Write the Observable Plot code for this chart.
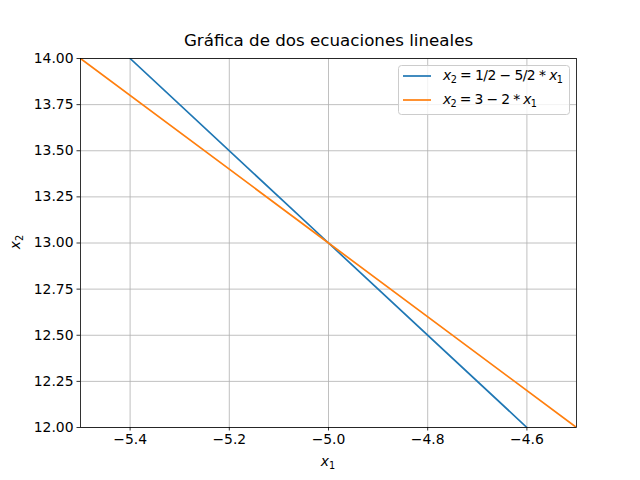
<!DOCTYPE html>
<html>
<head>
<meta charset="utf-8">
<script src="https://cdn.jsdelivr.net/npm/d3@7"></script>
<script src="https://cdn.jsdelivr.net/npm/@observablehq/plot@0.6"></script>
<style>
  html, body { margin: 0; padding: 0; background: white; }
</style>
</head>
<body>
<div id="chart"></div>
<script>
const titleText = "Gráfica de dos ecuaciones lineales";
const xTicks = [-5.4, -5.2, -5.0, -4.8, -4.6];
const yTicks = [12.0, 12.25, 12.5, 12.75, 13.0, 13.25, 13.5, 13.75, 14.0];
const blueX = [-5.4, -5.0, -4.6];
const blueY = [14.0, 13.0, 12.0];
const orangeX = [-5.5, -5.0, -4.5];
const orangeY = [14.0, 13.0, 12.0];
const seriesNames = ["blue", "orange"];

const blue = blueX.map((x, i) => ({x, y: blueY[i]}));
const orange = orangeX.map((x, i) => ({x, y: orangeY[i]}));

const fmt = d3.format(".1f");
const chart = Plot.plot({
  width: 640, height: 480,
  marginLeft: 80, marginRight: 64, marginTop: 58, marginBottom: 53,
  style: {fontFamily: "DejaVu Sans", fontSize: "13.9px", background: "white", color: "black"},
  x: {domain: [-5.5, -4.5], label: null},
  y: {domain: [12, 14], label: null},
  marks: [
    Plot.gridX(xTicks, {stroke: "#b0b0b0", strokeOpacity: 1, strokeWidth: 0.8}),
    Plot.gridY(yTicks, {stroke: "#b0b0b0", strokeOpacity: 1, strokeWidth: 0.8}),
    Plot.line(blue, {x: "x", y: "y", stroke: "#1f77b4", strokeWidth: 1.7, clip: true}),
    Plot.line(orange, {x: "x", y: "y", stroke: "#ff7f0e", strokeWidth: 1.7, clip: true}),
    Plot.frame({stroke: "black", strokeWidth: 0.8}),
    Plot.axisX(xTicks, {tickSize: 3.5, tickPadding: 3.5, tickFormat: d => fmt(d), label: null, fontSize: 13.9, strokeWidth: 0.8}),
    Plot.axisY(yTicks, {tickSize: 3.5, tickPadding: 3.5, tickFormat: d3.format(".2f"), label: null, fontSize: 13.9, strokeWidth: 0.8}),
    Plot.text([titleText], {frameAnchor: "top", dy: -24, text: d => d, fontSize: 16.7, fill: "black"})
  ]
});
document.getElementById("chart").appendChild(chart);

const svg = d3.select(chart);
function addParts(t, parts) {
  parts.forEach(part => {
    if (Array.isArray(part)) {
      t.append("tspan").attr("font-style", "italic").text(part[0]);
      t.append("tspan").attr("font-size", "9.7px").attr("baseline-shift", "-3px").text(part[1]);
    } else {
      t.append("tspan").text(part);
    }
  });
}
// x label
const xl = svg.append("text").attr("x", 328).attr("y", 466).attr("text-anchor", "middle")
  .attr("font-family", "DejaVu Sans").attr("font-size", "13.9px").attr("fill", "black");
addParts(xl, [["x", "1"]]);
// y label
const yl = svg.append("text").attr("transform", "translate(20,242) rotate(-90)").attr("text-anchor", "middle")
  .attr("font-family", "DejaVu Sans").attr("font-size", "13.9px").attr("fill", "black");
addParts(yl, [["x", "2"]]);

// legend
const lg = svg.append("g").attr("font-family", "DejaVu Sans").attr("font-size", "13.9px").attr("text-anchor", "start");
lg.append("rect").attr("x", 398.5).attr("y", 65.5).attr("width", 171).attr("height", 49).attr("rx", 3)
  .attr("fill", "white").attr("fill-opacity", 0.8).attr("stroke", "#cccccc").attr("stroke-width", 1);
const colors = {blue: "#1f77b4", orange: "#ff7f0e"};
const rows = [
  [["x","2"], " = 1/2 − 5/2 * ", ["x","1"]],
  [["x","2"], " = 3 − 2 * ", ["x","1"]]
];
const rowLengths = [120, 94];
seriesNames.forEach((s, i) => {
  const y = 76 + i * 24;
  lg.append("line").attr("x1", 403).attr("x2", 431).attr("y1", y).attr("y2", y)
    .attr("stroke", colors[s]).attr("stroke-width", 1.7);
  const t = lg.append("text").attr("x", 443).attr("y", y + 4).attr("fill", "black").attr("text-anchor", "start")
    .attr("textLength", rowLengths[i]).attr("lengthAdjust", "spacing");
  addParts(t, rows[i]);
});
</script>
</body>
</html>
